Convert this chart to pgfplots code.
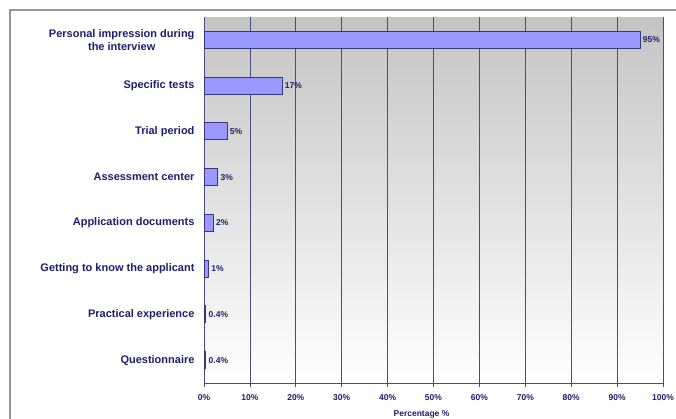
\documentclass[border=0pt]{standalone}
\usepackage{pgfplots}
\pgfplotsset{compat=1.18}
\usepackage{fontspec}
\setmainfont{Liberation Sans}
\definecolor{navy}{RGB}{30,30,110}
\definecolor{gridc}{RGB}{75,75,130}
\definecolor{barfill}{RGB}{153,153,255}
\definecolor{bardraw}{RGB}{55,55,125}
\definecolor{framec}{RGB}{150,150,150}
\definecolor{bgtop}{RGB}{196,196,196}
\begin{document}
\begin{tikzpicture}[x=1pt,y=1pt]
\useasboundingbox (0,0) rectangle (676,419);
\fill[white] (0,0) rectangle (676,419);
\draw[framec, line width=2.5pt] (10,-5) -- (10,409) -- (690,409);
\begin{axis}[
  at={(204pt,36pt)}, anchor=south west,
  scale only axis, width=459pt, height=366pt,
  xbar, bar width=17pt,
  xmin=0, xmax=100, ymin=-0.5, ymax=7.5,
  y dir=reverse,
  ytick={0,1,2,3,4,5,6,7},
  yticklabels={{Personal impression during\\the interview}, Specific tests, Trial period, Assessment center, Application documents, Getting to know the applicant, Practical experience, Questionnaire},
  yticklabel style={align=center, font=\fontsize{11}{13}\selectfont\bfseries, text=navy, xshift=-2pt},
  ytick style={draw=none},
  xtick={0,10,20,30,40,50,60,70,80,90,100},
  xticklabel={\pgfmathprintnumber[assume math mode=true]{\tick}\%},
  xticklabel style={font=\fontsize{8.5}{10}\selectfont\bfseries, text=navy, yshift=-4pt},
  tick align=outside, major tick length=4pt,
  x tick style={gridc, line width=0.8pt},
  axis x line*=bottom, axis y line*=left,
  axis line style={gridc, line width=1pt},
  xmajorgrids, grid style={gridc, line width=0.8pt},
  axis background/.style={top color=bgtop, bottom color=white},
  xlabel={Percentage \%},
  xlabel style={font=\fontsize{8.5}{10}\selectfont\bfseries, text=navy, yshift=-3.5pt, xshift=-12pt},
  nodes near coords={\pgfmathprintnumber[assume math mode=true]{\pgfplotspointmeta}\%},
  nodes near coords style={font=\fontsize{8.5}{10}\selectfont\bfseries, text=navy, anchor=west, inner sep=2.5pt},
]
\addplot[fill=barfill, draw=bardraw, line width=0.8pt] coordinates {
  (95,0) (17,1) (5,2) (3,3) (2,4) (1,5) (0.4,6) (0.4,7)
};
\end{axis}
\end{tikzpicture}
\end{document}
